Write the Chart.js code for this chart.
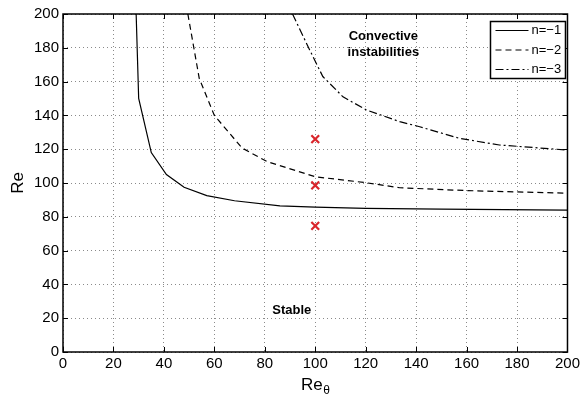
<!DOCTYPE html>
<html>
<head>
<meta charset="utf-8">
<script src="https://cdn.jsdelivr.net/npm/chart.js@4/dist/chart.umd.min.js"></script>
<style>
html,body{margin:0;padding:0;background:#fff;}
#wrap{width:583px;height:397px;}
</style>
</head>
<body>
<div id="wrap"><canvas id="c" width="583" height="397"></canvas></div>
<script>
const FONT = '"Liberation Sans", Arial, Helvetica, sans-serif';

// data
const seriesLabels = ['n=\u22121', 'n=\u22122', 'n=\u22123'];
const n1X = [29, 30, 35, 41, 48, 57, 68, 86, 100, 120, 150, 200];
const n1Y = [200, 150, 118, 105, 97.5, 92.5, 89.5, 86.5, 85.7, 85, 84.5, 84];
const n2X = [49.5, 54, 60, 71, 81, 100, 120, 133.5, 160, 200];
const n2Y = [200, 162, 140, 120.7, 112.6, 103.7, 100.2, 97.2, 95.5, 94];
const n3X = [91, 97.8, 103, 111, 120.3, 133.5, 141.4, 157.2, 173, 200];
const n3Y = [200, 178.7, 163, 151, 143.2, 136.3, 133.3, 126.4, 122.5, 119.5];
const markX = [100, 100, 100];
const markY = [126, 98.6, 74.6];
const xTicks = [0, 20, 40, 60, 80, 100, 120, 140, 160, 180, 200];
const yTicks = [0, 20, 40, 60, 80, 100, 120, 140, 160, 180, 200];
const annotations = [
  {lines: ['Convective', 'instabilities'], x: 127, y: 182},
  {lines: ['Stable'], x: 90.7, y: 24.4}
];

const zip = (xs, ys) => xs.map((x, i) => ({x: x, y: ys[i]}));
const dashes = [[], [6, 4], [8, 3, 2, 3]];

const framePlugin = {
  id: 'framePlugin',
  afterDraw(chart) {
    const ctx = chart.ctx;
    const a = chart.chartArea;
    const xs = chart.scales.x, ys = chart.scales.y;
    ctx.save();
    // frame
    ctx.strokeStyle = '#000';
    ctx.lineWidth = 1.5;
    ctx.setLineDash([]);
    ctx.strokeRect(a.left, a.top, a.right - a.left, a.bottom - a.top);
    // inward ticks
    ctx.lineWidth = 1;
    const tl = 5;
    xTicks.forEach(v => {
      const px = Math.round(xs.getPixelForValue(v)) + 0.5;
      ctx.beginPath();
      ctx.moveTo(px, a.bottom); ctx.lineTo(px, a.bottom - tl);
      ctx.moveTo(px, a.top); ctx.lineTo(px, a.top + tl);
      ctx.stroke();
    });
    yTicks.forEach(v => {
      const py = Math.round(ys.getPixelForValue(v)) + 0.5;
      ctx.beginPath();
      ctx.moveTo(a.left, py); ctx.lineTo(a.left + tl, py);
      ctx.moveTo(a.right, py); ctx.lineTo(a.right - tl, py);
      ctx.stroke();
    });
    // annotations
    ctx.fillStyle = '#000';
    ctx.font = 'bold 13px ' + FONT;
    ctx.textAlign = 'center';
    ctx.textBaseline = 'middle';
    annotations.forEach(an => {
      const px = xs.getPixelForValue(an.x);
      const py = ys.getPixelForValue(an.y);
      const n = an.lines.length;
      an.lines.forEach((t, i) => {
        ctx.fillText(t, px, py + (i - (n - 1) / 2) * 15.5);
      });
    });
    // x axis title with subscript
    ctx.font = '17px ' + FONT;
    ctx.textAlign = 'left';
    ctx.textBaseline = 'alphabetic';
    const cx = (a.left + a.right) / 2;
    const w1 = ctx.measureText('Re').width;
    ctx.font = '12px ' + FONT;
    const w2 = ctx.measureText('\u03b8').width;
    const sx = cx - (w1 + w2) / 2;
    ctx.font = '17px ' + FONT;
    ctx.fillText('Re', sx, 390);
    ctx.font = '12px ' + FONT;
    ctx.fillText('\u03b8', sx + w1 + 0.5, 394);
    // legend
    const lw = 75, lh = 57;
    const lx = a.right - 2 - lw, ly = a.top + 7.5;
    ctx.fillStyle = '#fff';
    ctx.fillRect(lx, ly, lw, lh);
    ctx.strokeStyle = '#000';
    ctx.lineWidth = 1.5;
    ctx.strokeRect(lx, ly, lw, lh);
    ctx.lineWidth = 1.1;
    ctx.font = '13px ' + FONT;
    ctx.textBaseline = 'middle';
    ctx.fillStyle = '#000';
    seriesLabels.forEach((lab, i) => {
      const yy = ly + 9 + i * 19.5;
      ctx.setLineDash(dashes[i]);
      ctx.beginPath();
      ctx.moveTo(lx + 5, yy); ctx.lineTo(lx + 38, yy);
      ctx.stroke();
      ctx.setLineDash([]);
      ctx.fillText(lab, lx + 41, yy);
    });
    ctx.restore();
  }
};

const lineDS = (label, xs, ys, dash) => ({
  type: 'line',
  label: label,
  data: zip(xs, ys),
  borderColor: '#000',
  borderWidth: 1.2,
  borderDash: dash,
  pointRadius: 0,
  fill: false,
  tension: 0
});

new Chart(document.getElementById('c'), {
  type: 'scatter',
  data: {
    datasets: [
      lineDS(seriesLabels[0], n1X, n1Y, dashes[0]),
      lineDS(seriesLabels[1], n2X, n2Y, dashes[1]),
      lineDS(seriesLabels[2], n3X, n3Y, dashes[2]),
      {
        type: 'scatter',
        label: 'marks',
        data: zip(markX, markY),
        pointStyle: 'crossRot',
        pointRadius: 5.5,
        borderColor: '#d9262c',
        borderWidth: 2.2,
        backgroundColor: '#d9262c'
      }
    ]
  },
  options: {
    responsive: false,
    animation: false,
    devicePixelRatio: 1,
    layout: {padding: {top: 14, right: 15, left: 0, bottom: 0}},
    plugins: {legend: {display: false}, tooltip: {enabled: false}},
    scales: {
      x: {
        type: 'linear', min: 0, max: 200,
        afterFit(s) { s.height = 45; },
        afterBuildTicks(s) { s.ticks = xTicks.map(v => ({value: v})); },
        grid: {color: '#8a8a8a', lineWidth: 1, drawTicks: false},
        border: {display: false, dash: [1, 3]},
        ticks: {color: '#000', font: {family: FONT, size: 15}, padding: 3, maxRotation: 0}
      },
      y: {
        type: 'linear', min: 0, max: 200,
        afterFit(s) { s.width = 63; },
        afterBuildTicks(s) { s.ticks = yTicks.map(v => ({value: v})); },
        grid: {color: '#8a8a8a', lineWidth: 1, drawTicks: false},
        border: {display: false, dash: [1, 3]},
        ticks: {color: '#000', font: {family: FONT, size: 15}, padding: 4},
        title: {display: true, text: 'Re', color: '#000', font: {family: FONT, size: 17}, padding: {top: 8, bottom: 0}}
      }
    }
  },
  plugins: [framePlugin]
});
</script>
</body>
</html>
